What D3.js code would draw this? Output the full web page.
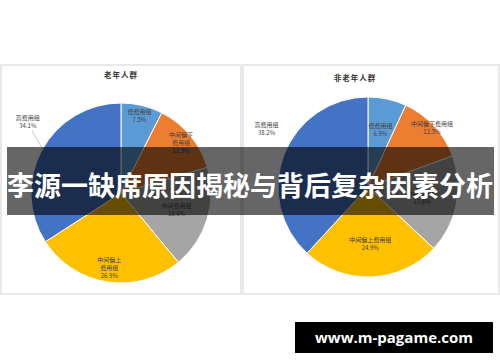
<!DOCTYPE html>
<html lang="zh">
<head>
  <meta charset="UTF-8">
  <title>李源一缺席原因揭秘与背后复杂因素分析</title>
  <style>
    body { margin: 0; padding: 0; background: #ffffff; }
    svg { display: block; }
    .lbl { font-family: 'Noto Sans CJK SC', sans-serif; font-size: 6px; fill: #404040; }
    .ttl { font-family: 'Noto Sans CJK SC', sans-serif; font-size: 7.5px; font-weight: bold; fill: #333; letter-spacing: 1px; }
  </style>
</head>
<body>
<svg id="chart"></svg>
<script src="https://d3js.org/d3.v7.min.js"></script>
<script>
  const width = 500, height = 362;

  // data
  const groups = ["低费用组", "中间偏下费用组", "中间费用组", "中间偏上费用组", "高费用组"];
  const elderly = [7.5, 12.9, 18.6, 26.9, 34.1];
  const nonElderly = [6.9, 12.5, 17.6, 24.9, 38.2];
  const chartTitles = ["老年人群", "非老年人群"];
  const bannerText = "李源一缺席原因揭秘与背后复杂因素分析";
  const siteText = "www.m-pagame.com";

  const colors = d3.scaleOrdinal()
    .domain(groups)
    .range(["#5b9bd5", "#ed7d31", "#a5a5a5", "#ffc000", "#4472c4"]);

  const svg = d3.select("#chart")
    .attr("width", width)
    .attr("height", height);

  svg.append("rect").attr("width", width).attr("height", height).attr("fill", "#fff");

  // two panels (label radii = "best fit" spots, last slice goes outside)
  const panels = [
    { x: 1, w: 240, cx: 121, cy: 193, tx: 121, ty: 78, values: elderly, wrap: true, leader: true, lr: [79, 78, 58, 76] },
    { x: 243, w: 256, cx: 368, cy: 187, tx: 355, ty: 81, values: nonElderly, wrap: false, leader: false, lr: [58, 87, 55, 57] }
  ];
  const r = 90;

  const pie = d3.pie().sort(null).value(d => d.v);
  const arc = d3.arc().innerRadius(0).outerRadius(r);

  panels.forEach((p, i) => {
    svg.append("rect")
      .attr("x", p.x).attr("y", 65)
      .attr("width", p.w).attr("height", 229)
      .attr("fill", "#fff")
      .attr("stroke", "#e2e2e2")
      .attr("stroke-width", 1.5);

    svg.append("text")
      .attr("class", "ttl")
      .attr("x", p.tx).attr("y", p.ty)
      .attr("text-anchor", "middle")
      .text(chartTitles[i]);

    const g = svg.append("g").attr("transform", `translate(${p.cx},${p.cy})`);
    const arcs = pie(groups.map((k, j) => ({ k, v: p.values[j] })));

    g.selectAll("path")
      .data(arcs)
      .enter()
      .append("path")
      .attr("d", arc)
      .attr("fill", d => colors(d.data.k))
      .attr("stroke", "#fff")
      .attr("stroke-width", 1);

    arcs.forEach((d, j) => {
      const mid = (d.startAngle + d.endAngle) / 2;
      const outside = j === groups.length - 1;
      const rad = outside ? r * 1.3 : p.lr[j];
      const ang = outside ? mid + 0.15 : mid;
      const lx = rad * Math.sin(ang), ly = -rad * Math.cos(ang);

      let lines;
      if (p.wrap && d.data.k.length > 5) lines = [d.data.k.slice(0, 4), d.data.k.slice(4)];
      else lines = [d.data.k];
      lines.push(d.data.v.toFixed(1) + "%");

      const t = g.append("text")
        .attr("class", "lbl")
        .attr("text-anchor", "middle")
        .attr("x", lx)
        .attr("y", ly - (lines.length - 1) * 4 + 2);
      lines.forEach((s, n) => {
        t.append("tspan").attr("x", lx).attr("dy", n === 0 ? 0 : 8).text(s);
      });

      if (outside && p.leader) {
        const ex = r * 0.98 * Math.sin(mid), ey = -r * 0.98 * Math.cos(mid);
        g.append("line")
          .attr("x1", lx + 4).attr("y1", ly + 8)
          .attr("x2", ex).attr("y2", ey)
          .attr("stroke", "#a6a6a6")
          .attr("stroke-width", 0.6);
      }
    });
  });

  // overlay banner
  svg.append("rect")
    .attr("x", 7).attr("y", 147)
    .attr("width", 487).attr("height", 68)
    .attr("fill", "#000")
    .attr("fill-opacity", 0.6);

  svg.append("text")
    .attr("x", 250).attr("y", 196)
    .attr("text-anchor", "middle")
    .attr("font-family", "'Noto Sans CJK SC', sans-serif")
    .attr("font-weight", "bold")
    .attr("font-size", 27)
    .attr("fill", "#fff")
    .text(bannerText);

  // site box
  svg.append("rect")
    .attr("x", 295).attr("y", 322)
    .attr("width", 198).attr("height", 31)
    .attr("fill", "#000");

  svg.append("text")
    .attr("x", 394).attr("y", 343)
    .attr("text-anchor", "middle")
    .attr("font-family", "'Open Sans', sans-serif")
    .attr("font-weight", "bold")
    .attr("font-size", 15)
    .attr("fill", "#fff")
    .text(siteText);
</script>
</body>
</html>
